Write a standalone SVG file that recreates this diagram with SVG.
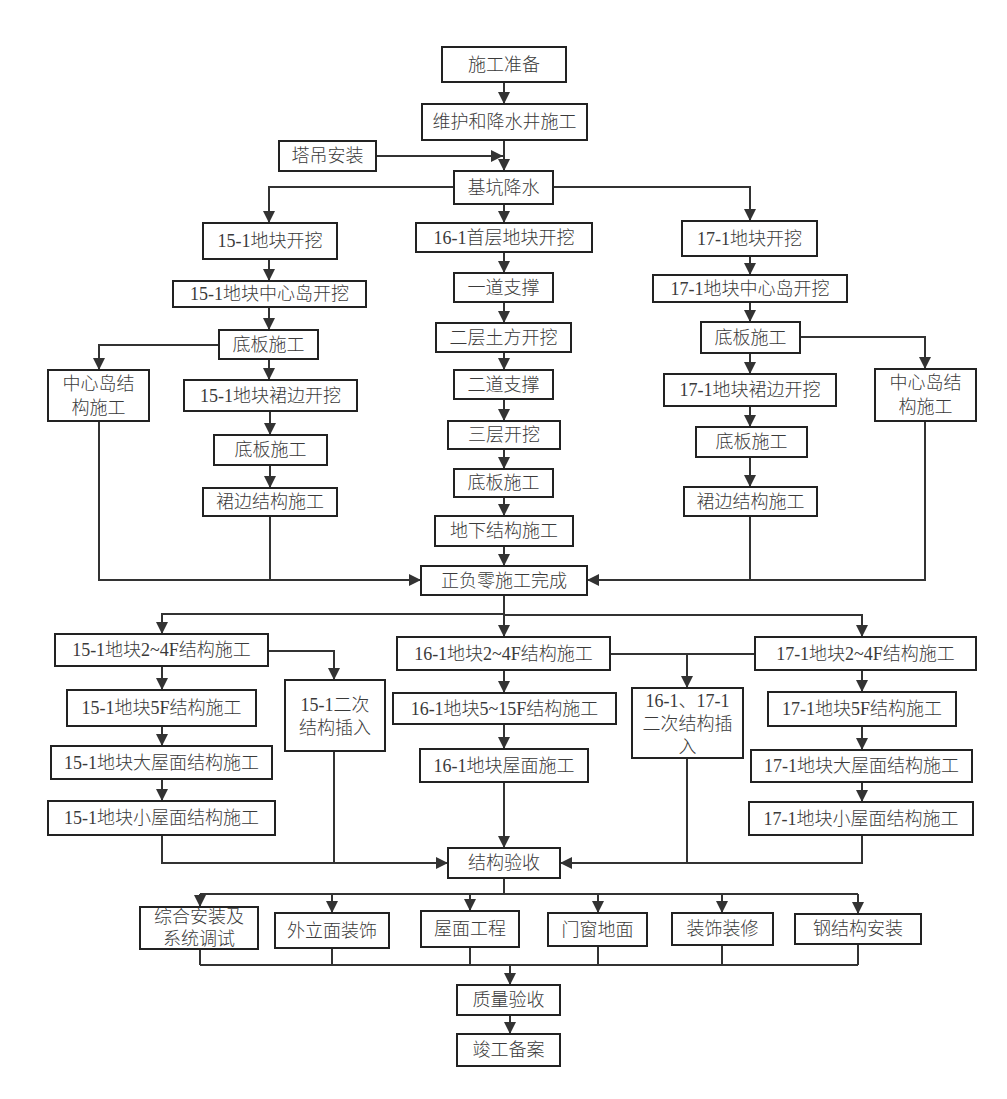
<svg xmlns="http://www.w3.org/2000/svg" width="1007" height="1099" viewBox="0 0 1007 1099">
<defs>
<marker id="ah" markerUnits="userSpaceOnUse" markerWidth="12" markerHeight="12" refX="12" refY="6" orient="auto">
<path d="M0,0 L12,6 L0,12 z" fill="#333"/>
</marker>
<style>
.n rect{fill:#fff;stroke:#222;stroke-width:2}
.n text{font-family:"Liberation Serif","Noto Sans CJK SC",serif;font-size:18px;font-weight:300;fill:#3a3a3a;text-anchor:middle;dominant-baseline:central}
#edges path{fill:none;stroke:#333;stroke-width:2}
#edges path.a{marker-end:url(#ah)}
</style>
</defs>
<rect width="1007" height="1099" fill="#fff"/>
<g id="edges">
<path class="a" d="M504,82 V104"/>
<path class="a" d="M504,140 V171"/>
<path class="a" d="M376,156 H503"/>
<path class="a" d="M454,187 H269 V223"/>
<path class="a" d="M553,187 H750 V221"/>
<path class="a" d="M504,204 V223"/>
<path class="a" d="M269,259 V281"/>
<path class="a" d="M269,307 V330"/>
<path class="a" d="M219,345 H99 V370"/>
<path class="a" d="M269,359 V380"/>
<path class="a" d="M270,411 V435"/>
<path class="a" d="M270,465 V488"/>
<path class="a" d="M99,421 V580 H421"/>
<path d="M270,516 V580"/>
<path class="a" d="M504,252 V273"/>
<path class="a" d="M504,302 V323"/>
<path class="a" d="M504,352 V370"/>
<path class="a" d="M504,399 V421"/>
<path class="a" d="M504,449 V469"/>
<path class="a" d="M504,497 V516"/>
<path class="a" d="M504,546 V566"/>
<path class="a" d="M750,256 V275"/>
<path class="a" d="M750,302 V322"/>
<path class="a" d="M800,337 H925 V369"/>
<path class="a" d="M750,353 V374"/>
<path class="a" d="M750,406 V427"/>
<path class="a" d="M750,457 V487"/>
<path class="a" d="M925,421 V580 H587"/>
<path d="M750,516 V580"/>
<path d="M504,595 V614"/>
<path class="a" d="M504,614 H162 V634"/>
<path class="a" d="M504,614 V637"/>
<path class="a" d="M504,615 H862 V637"/>
<path class="a" d="M268,651 H334 V680"/>
<path class="a" d="M162,666 V690"/>
<path class="a" d="M162,726 V746"/>
<path class="a" d="M162,779 V801"/>
<path class="a" d="M162,835 V863 H448"/>
<path d="M334,751 V863"/>
<path class="a" d="M504,670 V693"/>
<path class="a" d="M504,724 V749"/>
<path class="a" d="M504,782 V848"/>
<path d="M610,654 H755"/>
<path class="a" d="M687,654 V688"/>
<path class="a" d="M862,670 V692"/>
<path class="a" d="M862,726 V750"/>
<path class="a" d="M862,782 V802"/>
<path class="a" d="M862,835 V863 H560"/>
<path d="M687,758 V863"/>
<path d="M504,878 V894"/>
<path d="M200,894 H858"/>
<path class="a" d="M200,894 V907"/>
<path class="a" d="M332,894 V913"/>
<path class="a" d="M470,894 V911"/>
<path class="a" d="M598,894 V913"/>
<path class="a" d="M722,894 V913"/>
<path class="a" d="M858,894 V914"/>
<path d="M200,949 V965 M332,948 V965 M470,947 V965 M598,946 V965 M722,945 V965 M858,944 V965 M200,965 H858"/>
<path class="a" d="M510,965 V985"/>
<path class="a" d="M510,1015 V1034"/>
</g>
<g id="n1" class="n"><rect x="442" y="47" width="124" height="35"/><text x="504" y="64.5">施工准备</text></g>
<g id="n2" class="n"><rect x="422" y="104" width="165" height="36"/><text x="504.5" y="122">维护和降水井施工</text></g>
<g id="n3" class="n"><rect x="279" y="141" width="97" height="30"/><text x="327.5" y="156">塔吊安装</text></g>
<g id="n4" class="n"><rect x="454" y="171" width="99" height="33"/><text x="503.5" y="187.5">基坑降水</text></g>
<g id="n5" class="n"><rect x="203" y="223" width="134" height="36"/><text x="270" y="241">15-1地块开挖</text></g>
<g id="n6" class="n"><rect x="173" y="281" width="193" height="26"/><text x="269.5" y="294">15-1地块中心岛开挖</text></g>
<g id="n7" class="n"><rect x="219" y="330" width="99" height="29"/><text x="268.5" y="344.5">底板施工</text></g>
<g id="n8" class="n"><rect x="48" y="370" width="101" height="51"/><text x="98.5" y="384">中心岛结</text><text x="98.5" y="408">构施工</text></g>
<g id="n9" class="n"><rect x="184" y="380" width="173" height="31"/><text x="270.5" y="395.5">15-1地块裙边开挖</text></g>
<g id="n10" class="n"><rect x="214" y="435" width="113" height="30"/><text x="270.5" y="450">底板施工</text></g>
<g id="n11" class="n"><rect x="203" y="488" width="134" height="28"/><text x="270" y="502">裙边结构施工</text></g>
<g id="n12" class="n"><rect x="416" y="223" width="176" height="29"/><text x="504" y="237.5">16-1首层地块开挖</text></g>
<g id="n13" class="n"><rect x="454" y="273" width="99" height="29"/><text x="503.5" y="287.5">一道支撑</text></g>
<g id="n14" class="n"><rect x="436" y="323" width="135" height="29"/><text x="503.5" y="337.5">二层土方开挖</text></g>
<g id="n15" class="n"><rect x="454" y="370" width="99" height="29"/><text x="503.5" y="384.5">二道支撑</text></g>
<g id="n16" class="n"><rect x="448" y="421" width="112" height="28"/><text x="504" y="435">三层开挖</text></g>
<g id="n17" class="n"><rect x="454" y="469" width="99" height="28"/><text x="503.5" y="483">底板施工</text></g>
<g id="n18" class="n"><rect x="435" y="516" width="138" height="30"/><text x="504" y="531">地下结构施工</text></g>
<g id="n19" class="n"><rect x="421" y="566" width="166" height="29"/><text x="504" y="580.5">正负零施工完成</text></g>
<g id="n20" class="n"><rect x="682" y="221" width="135" height="35"/><text x="749.5" y="238.5">17-1地块开挖</text></g>
<g id="n21" class="n"><rect x="653" y="275" width="194" height="27"/><text x="750" y="288.5">17-1地块中心岛开挖</text></g>
<g id="n22" class="n"><rect x="701" y="322" width="99" height="31"/><text x="750.5" y="337.5">底板施工</text></g>
<g id="n23" class="n"><rect x="875" y="369" width="101" height="52"/><text x="925.5" y="383">中心岛结</text><text x="925.5" y="407">构施工</text></g>
<g id="n24" class="n"><rect x="664" y="374" width="172" height="32"/><text x="750" y="390">17-1地块裙边开挖</text></g>
<g id="n25" class="n"><rect x="696" y="427" width="111" height="30"/><text x="751.5" y="442">底板施工</text></g>
<g id="n26" class="n"><rect x="684" y="487" width="133" height="29"/><text x="750.5" y="501.5">裙边结构施工</text></g>
<g id="n27" class="n"><rect x="55" y="634" width="213" height="32"/><text x="161.5" y="650">15-1地块2~4F结构施工</text></g>
<g id="n28" class="n"><rect x="67" y="690" width="189" height="36"/><text x="161.5" y="708">15-1地块5F结构施工</text></g>
<g id="n29" class="n"><rect x="51" y="746" width="221" height="33"/><text x="161.5" y="762.5">15-1地块大屋面结构施工</text></g>
<g id="n30" class="n"><rect x="48" y="801" width="227" height="34"/><text x="161.5" y="818">15-1地块小屋面结构施工</text></g>
<g id="n31" class="n"><rect x="285" y="680" width="100" height="71"/><text x="335" y="705">15-1二次</text><text x="335" y="728">结构插入</text></g>
<g id="n32" class="n"><rect x="397" y="637" width="213" height="33"/><text x="503.5" y="653.5">16-1地块2~4F结构施工</text></g>
<g id="n33" class="n"><rect x="393" y="693" width="223" height="31"/><text x="504.5" y="708.5">16-1地块5~15F结构施工</text></g>
<g id="n34" class="n"><rect x="420" y="749" width="168" height="33"/><text x="504" y="765.5">16-1地块屋面施工</text></g>
<g id="n35" class="n"><rect x="632" y="688" width="111" height="70"/><text x="687.5" y="701">16-1、17-1</text><text x="687.5" y="724">二次结构插</text><text x="687.5" y="747">入</text></g>
<g id="n36" class="n"><rect x="755" y="637" width="221" height="33"/><text x="865.5" y="653.5">17-1地块2~4F结构施工</text></g>
<g id="n37" class="n"><rect x="768" y="692" width="188" height="34"/><text x="862" y="709">17-1地块5F结构施工</text></g>
<g id="n38" class="n"><rect x="751" y="750" width="221" height="32"/><text x="861.5" y="766">17-1地块大屋面结构施工</text></g>
<g id="n39" class="n"><rect x="749" y="802" width="224" height="33"/><text x="861" y="818.5">17-1地块小屋面结构施工</text></g>
<g id="n40" class="n"><rect x="448" y="848" width="112" height="30"/><text x="504" y="863">结构验收</text></g>
<g id="n41" class="n"><rect x="140" y="907" width="118" height="42"/><text x="199" y="917">综合安装及</text><text x="199" y="939">系统调试</text></g>
<g id="n42" class="n"><rect x="275" y="913" width="114" height="35"/><text x="332" y="930.5">外立面装饰</text></g>
<g id="n43" class="n"><rect x="421" y="911" width="98" height="36"/><text x="470" y="929">屋面工程</text></g>
<g id="n44" class="n"><rect x="548" y="913" width="99" height="33"/><text x="597.5" y="929.5">门窗地面</text></g>
<g id="n45" class="n"><rect x="672" y="913" width="101" height="32"/><text x="722.5" y="929">装饰装修</text></g>
<g id="n46" class="n"><rect x="795" y="914" width="126" height="30"/><text x="858" y="929">钢结构安装</text></g>
<g id="n47" class="n"><rect x="457" y="985" width="103" height="30"/><text x="508.5" y="1000">质量验收</text></g>
<g id="n48" class="n"><rect x="457" y="1034" width="103" height="32"/><text x="508.5" y="1050">竣工备案</text></g>
</svg>
